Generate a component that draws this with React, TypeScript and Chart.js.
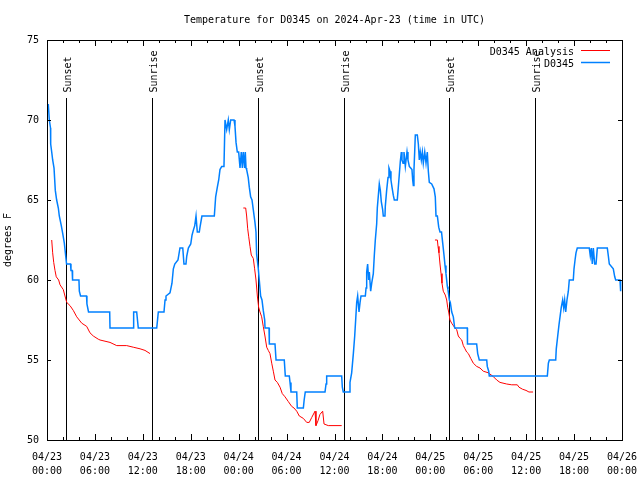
import React, { useEffect, useRef } from "react";
import { Chart, registerables } from "chart.js";

Chart.register(...registerables);

const TITLE = "Temperature for D0345 on 2024-Apr-23 (time in UTC)";
const Y_TITLE = "degrees F";
const SERIES_ANALYSIS = "D0345 Analysis";
const SERIES_OBS = "D0345";

// x axis: hours since 04/23 00:00 UTC
const X_MIN = 0;
const X_MAX = 72;
const X_STEP = 6;
const DATE_LABELS = ["04/23", "04/23", "04/23", "04/23", "04/24", "04/24", "04/24", "04/24", "04/25", "04/25", "04/25", "04/25", "04/26"];
const TIME_LABELS = ["00:00", "06:00", "12:00", "18:00", "00:00", "06:00", "12:00", "18:00", "00:00", "06:00", "12:00", "18:00", "00:00"];
const Y_MIN = 50;
const Y_MAX = 75;
const Y_STEP = 5;

const SUNSET_HOURS = [2.37, 26.36, 50.38];
const SUNRISE_HOURS = [13.19, 37.13, 61.16];
const SUN_LINE_TOP = 71.35;

// Observed temperature (D0345)
const OBS_HOURS = [
  0.16, 0.29, 0.44, 0.46, 0.59, 0.71, 0.88, 1.04, 1.21, 1.42, 1.54, 1.79, 1.97, 2.17, 2.34, 2.45,
  2.95, 3.0, 3.15, 3.2, 4.0, 4.05, 4.2, 4.95, 5.0, 5.2, 7.85, 7.89, 10.8, 10.85, 11.23, 11.43,
  13.74, 13.84, 13.94, 14.65, 14.78, 14.9, 15.4, 15.65, 15.82, 16.0, 16.4, 16.65, 17.0, 17.15,
  17.4, 17.5, 17.7, 18.0, 18.16, 18.32, 18.5, 18.66, 18.82, 19.07, 19.16, 19.4, 20.95, 21.12,
  21.33, 21.5, 21.66, 21.88, 22.16, 22.29, 22.5, 22.7, 22.83, 23.0, 23.42, 23.54, 23.67, 23.83,
  24.0, 24.17, 24.33, 24.46, 24.58, 24.75, 24.83, 24.92, 25.0, 25.2, 25.33, 25.5, 25.67, 25.83,
  26.04, 26.17, 26.25, 26.45, 26.58, 26.75, 26.92, 27.08, 27.26, 27.3, 27.8, 27.84, 28.55, 28.68,
  29.71, 29.84, 30.34, 30.43, 30.55, 31.27, 31.34, 32.1, 32.2, 32.34, 34.81, 34.94, 35.02, 36.9,
  36.98, 37.1, 37.85, 37.94, 38.15, 38.36, 38.53, 38.65, 38.78, 38.9, 39.07, 39.2, 39.32, 39.86,
  39.95, 40.03, 40.15, 40.28, 40.36, 40.53, 40.66, 40.86, 40.98, 41.11, 41.28, 41.36, 41.61, 41.74,
  41.86, 42.03, 42.11, 42.32, 42.36, 42.53, 42.7, 42.82, 42.95, 43.07, 43.2, 43.36, 43.49, 43.86,
  43.99, 44.11, 44.24, 44.37, 44.45, 44.58, 44.7, 44.87, 45.08, 45.2, 45.37, 45.54, 45.7, 45.79,
  45.87, 45.95, 46.04, 46.12, 46.37, 46.5, 46.62, 46.74, 46.87, 47.0, 47.12, 47.3, 47.46, 47.62,
  47.75, 47.87, 48.17, 48.46, 48.62, 48.71, 48.88, 49.05, 49.21, 49.4, 49.55, 49.71, 49.84, 49.96,
  50.13, 50.21, 50.38, 50.5, 50.68, 50.88, 51.05, 52.63, 52.65, 53.8, 53.93, 54.13, 55.06, 55.13,
  55.31, 55.38, 62.65, 62.78, 62.9, 63.7, 63.77, 63.95, 64.11, 64.24, 64.4, 64.57, 64.7, 64.82,
  64.95, 65.11, 65.28, 65.4, 65.9, 65.99, 66.12, 66.24, 66.4, 67.9, 68.03, 68.16, 68.28, 68.41,
  68.58, 68.75, 68.91, 70.16, 70.29, 70.41, 70.91, 71.09, 71.21, 71.75, 71.83,
];
const OBS_TEMPS = [
  71.0, 70.0, 69.5, 68.5, 68.0, 67.5, 67.0, 65.6, 65.0, 64.5, 64.0, 63.4, 62.9, 62.3, 61.5, 61.0,
  61.0, 60.6, 60.6, 60.0, 60.0, 59.3, 59.0, 59.0, 58.5, 58.0, 58.0, 57.0, 57.0, 58.0, 58.0, 57.0,
  57.0, 57.5, 58.0, 58.0, 58.75, 59.0, 59.2, 59.8, 60.7, 61.0, 61.25, 62.0, 62.0, 61.0,
  61.0, 61.5, 62.0, 62.25, 62.8, 63.1, 63.4, 64.0, 63.0, 63.0, 63.3, 64.0, 64.0, 65.2,
  65.8, 66.25, 66.9, 67.1, 67.1, 70.0, 69.4, 70.0, 69.4, 70.0, 70.0, 69.6, 68.6, 68.0,
  68.0, 67.0, 68.0, 67.0, 68.0, 67.0, 68.0, 67.0, 66.9, 66.4, 65.8, 65.2, 65.0, 64.4,
  63.6, 63.0, 61.6, 60.75, 60.0, 59.0, 58.75, 58.1, 57.5, 57.0, 57.0, 56.0, 56.0, 55.0,
  55.0, 54.0, 54.0, 53.6, 53.0, 53.0, 52.0, 52.0, 52.5, 53.0, 53.0, 53.5, 54.0, 54.0,
  53.3, 53.0, 53.0, 53.6, 54.2, 55.4, 56.5, 57.5, 58.6, 59.0, 58.0, 58.6, 59.0, 59.0,
  59.5, 60.5, 61.0, 60.0, 60.5, 59.3, 59.8, 60.4, 61.5, 62.5, 63.5, 64.5, 66.0, 65.6,
  64.9, 64.4, 64.0, 64.0, 64.6, 65.6, 66.4, 67.0, 66.8, 66.25, 65.8, 65.3, 65.0, 65.0,
  65.8, 66.56, 67.4, 68.0, 67.5, 67.3, 68.0, 67.1, 68.0, 67.5, 67.1, 67.0, 66.9, 66.25,
  65.9, 66.9, 68.0, 69.06, 69.06, 68.5, 67.5, 68.0, 67.5, 68.0, 67.3, 68.0, 67.3, 68.0,
  66.8, 66.1, 66.0, 65.7, 65.2, 64.0, 64.0, 63.3, 63.0, 63.0, 62.3, 61.56, 60.9, 60.4,
  59.6, 59.4, 58.75, 58.6, 58.0, 57.7, 57.0, 57.0, 56.0, 56.0, 55.4, 55.0, 55.0, 54.6,
  54.3, 54.0, 54.0, 54.8, 55.0, 55.0, 55.7, 56.5, 57.2, 57.7, 58.3, 58.75, 58.25, 58.75,
  58.0, 58.75, 59.3, 60.0, 60.0, 60.7, 61.25, 61.7, 62.0, 62.0, 61.5, 62.0, 61.0, 62.0,
  61.0, 61.0, 62.0, 62.0, 61.5, 61.0, 60.7, 60.2, 60.0, 60.0, 59.3,
];

// Analysis (three separate runs, null = gap)
const ANALYSIS_HOURS = [
  0.59, 0.71, 0.84, 1.0, 1.16, 1.46, 1.63, 2.04, 2.25, 2.47, 2.88, 3.29, 3.72, 4.35, 4.97, 5.38,
  5.8, 6.42, 6.64, 7.89, 8.73, 9.98, 10.8, 11.65, 12.27, 12.9,
  12.95,
  24.58, 24.88, 25.0, 25.13, 25.26, 25.42, 25.58, 25.83, 26.0, 26.17, 26.34, 26.5, 26.67, 26.88,
  27.08, 27.29, 27.51, 27.71, 27.92, 28.14, 28.34, 28.55, 28.84, 29.18, 29.46, 29.8, 30.22, 30.64,
  30.93, 31.27, 31.59, 32.1, 32.52, 32.84, 33.14, 33.56, 33.68, 33.93, 34.18, 34.52, 34.69, 35.22,
  36.9,
  36.95,
  48.58, 48.88, 48.96, 49.08, 49.21, 49.34, 49.46, 49.62, 49.87, 50.05, 50.17, 50.3, 50.46, 50.67,
  51.09, 51.3, 51.5, 51.72, 51.93, 52.13, 52.34, 52.55, 52.76, 53.06, 53.38, 53.8, 54.22, 54.63,
  55.26, 55.89, 56.31, 56.72, 57.56, 58.19, 58.89, 59.1, 59.56, 59.98, 60.35, 60.86,
];
const ANALYSIS_TEMPS = [
  62.5, 61.7, 61.1, 60.6, 60.2, 60.0, 59.7, 59.4, 59.0, 58.6, 58.4, 58.1, 57.7, 57.3, 57.1, 56.7,
  56.5, 56.3, 56.25, 56.1, 55.9, 55.9, 55.8, 55.7, 55.6, 55.4,
  null,
  64.5, 64.5, 64.0, 63.2, 62.7, 62.1, 61.56, 61.35, 60.7, 60.0, 59.0, 58.3, 58.0, 57.7,
  57.1, 56.5, 55.8, 55.6, 55.4, 54.8, 54.3, 53.75, 53.6, 53.3, 52.9, 52.7, 52.4, 52.1,
  52.0, 51.8, 51.5, 51.35, 51.1, 51.1, 51.4, 51.8, 50.9, 51.2, 51.6, 51.8, 51.0, 50.9,
  50.9,
  null,
  62.5, 62.5, 62.1, 61.7, 61.0, 60.4, 59.8, 59.3, 59.06, 58.75, 58.3, 58.0, 57.5, 57.3,
  57.0, 56.9, 56.5, 56.35, 56.25, 55.9, 55.7, 55.5, 55.4, 55.1, 54.8, 54.6, 54.5, 54.3,
  54.2, 53.96, 53.75, 53.6, 53.5, 53.45, 53.45, 53.3, 53.17, 53.1, 53.0, 53.0,
];

const RED = "#ff0000";
const BLUE = "#0080ff";
const FONT = '10px "DejaVu Sans Mono", "Liberation Mono", monospace';

const decor = {
  id: "gnuplotDecor",
  beforeDatasetsDraw(chart: any) {
    const ctx = chart.ctx;
    const xs = chart.scales.x;
    const ys = chart.scales.y;
    const bottom = chart.chartArea.bottom;
    const top = ys.getPixelForValue(SUN_LINE_TOP);
    ctx.save();
    ctx.strokeStyle = "#000";
    ctx.lineWidth = 1;
    const lines: [number, string][] = [];
    SUNSET_HOURS.forEach((h) => lines.push([h, "Sunset"]));
    SUNRISE_HOURS.forEach((h) => lines.push([h, "Sunrise"]));
    lines.forEach(([h, label]) => {
      const x = Math.round(xs.getPixelForValue(h)) + 0.5;
      ctx.beginPath();
      ctx.moveTo(x, Math.round(top));
      ctx.lineTo(x, bottom);
      ctx.stroke();
      ctx.save();
      ctx.translate(x + 4.5, Math.round(top) - 5.5);
      ctx.rotate(-Math.PI / 2);
      ctx.font = FONT;
      ctx.fillStyle = "#000";
      ctx.textAlign = "left";
      ctx.textBaseline = "alphabetic";
      ctx.fillText(label, 0, 0);
      ctx.restore();
    });
    ctx.restore();
  },
  afterDraw(chart: any) {
    const ctx = chart.ctx;
    const { left, right, top, bottom } = chart.chartArea;
    const xs = chart.scales.x;
    const ys = chart.scales.y;
    ctx.save();
    ctx.strokeStyle = "#000";
    ctx.lineWidth = 1;
    // border box
    ctx.strokeRect(Math.round(left) + 0.5, Math.round(top) + 0.5, Math.round(right - left), Math.round(bottom - top));
    // x ticks (inward, mirrored)
    ctx.beginPath();
    for (let h = X_MIN; h <= X_MAX; h += 2) {
      const major = h % X_STEP === 0;
      const len = major ? 6 : 3;
      const x = Math.round(xs.getPixelForValue(h)) + 0.5;
      ctx.moveTo(x, bottom);
      ctx.lineTo(x, bottom - len);
      ctx.moveTo(x, top);
      ctx.lineTo(x, top + len);
    }
    for (let v = Y_MIN; v <= Y_MAX; v += Y_STEP) {
      const y = Math.round(ys.getPixelForValue(v)) + 0.5;
      ctx.moveTo(left, y);
      ctx.lineTo(left + 4, y);
      ctx.moveTo(right, y);
      ctx.lineTo(right - 4, y);
    }
    ctx.stroke();

    ctx.font = FONT;
    ctx.fillStyle = "#000";
    // title
    ctx.textAlign = "center";
    ctx.textBaseline = "alphabetic";
    ctx.fillText(TITLE, (left + right) / 2, 23);
    // y title
    ctx.save();
    ctx.translate(11, (top + bottom) / 2);
    ctx.rotate(-Math.PI / 2);
    ctx.textAlign = "center";
    ctx.fillText(Y_TITLE, 0, 0);
    ctx.restore();
    // legend
    const legend: [string, string, number][] = [
      [SERIES_ANALYSIS, RED, 55],
      [SERIES_OBS, BLUE, 67],
    ];
    legend.forEach(([label, color, base]) => {
      ctx.fillStyle = "#000";
      ctx.textAlign = "right";
      ctx.fillText(label, 574, base);
      ctx.strokeStyle = color;
      ctx.lineWidth = color === BLUE ? 1.5 : 1;
      ctx.beginPath();
      ctx.moveTo(581, base - 4.5);
      ctx.lineTo(610, base - 4.5);
      ctx.stroke();
    });
    ctx.restore();
  },
};

export default function App() {
  const ref = useRef<HTMLCanvasElement | null>(null);
  useEffect(() => {
    if (!ref.current) return;
    const obs = OBS_HOURS.map((h, i) => ({ x: h, y: OBS_TEMPS[i] }));
    const ana = ANALYSIS_HOURS.map((h, i) => ({ x: h, y: ANALYSIS_TEMPS[i] }));
    const chart = new Chart(ref.current, {
      type: "line",
      data: {
        datasets: [
          {
            label: SERIES_ANALYSIS,
            data: ana as any,
            borderColor: RED,
            borderWidth: 1,
            pointRadius: 0,
            tension: 0,
            spanGaps: false,
            order: 2,
          },
          {
            label: SERIES_OBS,
            data: obs as any,
            borderColor: BLUE,
            borderWidth: 1.5,
            pointRadius: 0,
            tension: 0,
            order: 1,
          },
        ],
      },
      options: {
        animation: false,
        responsive: false,
        events: [],
        layout: { padding: { left: 0, right: 18, top: 40, bottom: 0 } },
        plugins: { legend: { display: false }, title: { display: false }, tooltip: { enabled: false } },
        scales: {
          x: {
            type: "linear",
            min: X_MIN,
            max: X_MAX,
            grid: { display: false, drawTicks: false },
            border: { display: false },
            afterFit(s: any) {
              s.height = 40;
              s.paddingLeft = 0;
              s.paddingRight = 0;
            },
            ticks: {
              stepSize: X_STEP,
              autoSkip: false,
              maxRotation: 0,
              minRotation: 0,
              padding: 10,
              color: "#000",
              font: { family: '"DejaVu Sans Mono", monospace', size: 10, lineHeight: 1.45 },
              callback: (v: any) => {
                const i = Math.round(Number(v) / X_STEP);
                return [DATE_LABELS[i], TIME_LABELS[i]];
              },
            },
          },
          y: {
            type: "linear",
            min: Y_MIN,
            max: Y_MAX,
            grid: { display: false, drawTicks: false },
            border: { display: false },
            afterFit(s: any) {
              s.width = 47;
              s.paddingTop = 0;
              s.paddingBottom = 0;
            },
            ticks: {
              stepSize: Y_STEP,
              padding: 8,
              color: "#000",
              font: { family: '"DejaVu Sans Mono", monospace', size: 10 },
              callback: (v: any) => String(v),
            },
          },
        },
      },
      plugins: [decor],
    });
    return () => chart.destroy();
  }, []);
  return (
    <div style={{ position: "fixed", left: 0, top: 0, width: 640, height: 480, background: "#fff" }}>
      <canvas ref={ref} width={640} height={480} style={{ display: "block", width: 640, height: 480 }} />
    </div>
  );
}
